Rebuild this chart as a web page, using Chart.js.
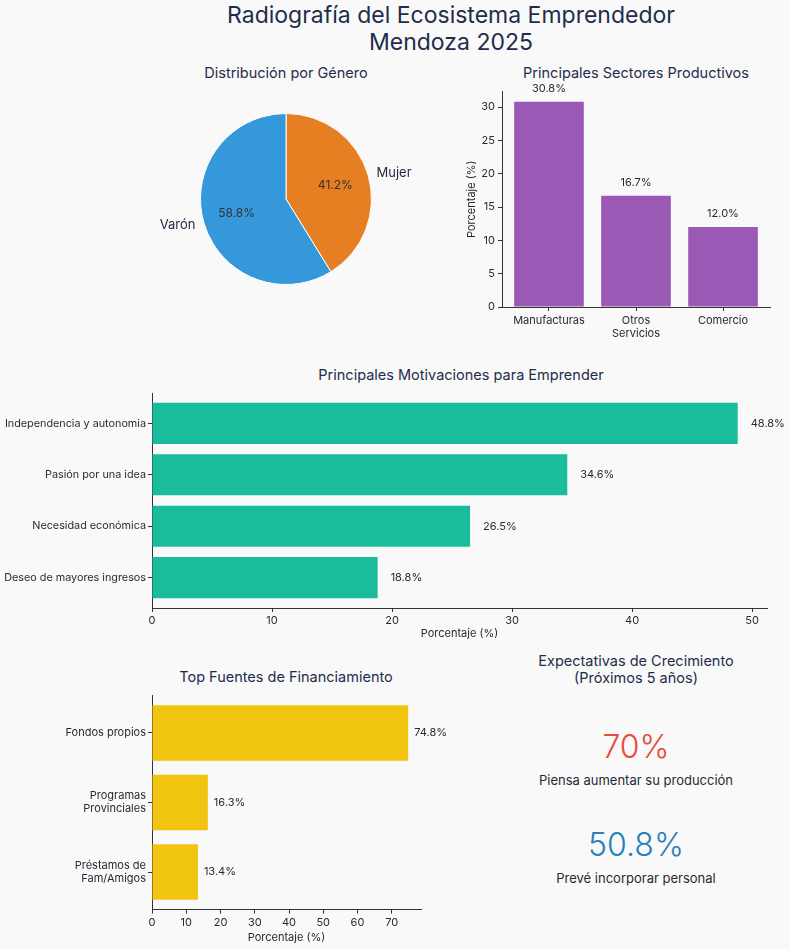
<!DOCTYPE html>
<html><head><meta charset="utf-8">
<script src="https://cdn.jsdelivr.net/npm/chart.js@4.4.0/dist/chart.umd.min.js"></script>
<style>
html,body{margin:0;padding:0;background:#f9f9f9;}
body{width:790px;height:949px;position:relative;overflow:hidden;font-family:Inter, "Noto Sans", sans-serif;}
canvas{position:absolute;}
.t{position:absolute;color:#1e2d4b;text-align:center;white-space:nowrap;transform:translateX(-50%);}
</style></head><body>

<div class="t" style="left:451px;top:2px;font-size:23px;line-height:27px;">Radiografía del Ecosistema Emprendedor<br>Mendoza 2025</div>
<div class="t" style="left:286px;top:64px;font-size:14.5px;">Distribución por Género</div>
<div class="t" style="left:636px;top:64px;font-size:14.5px;">Principales Sectores Productivos</div>
<div class="t" style="left:461px;top:366px;font-size:14.5px;">Principales Motivaciones para Emprender</div>
<div class="t" style="left:286px;top:668px;font-size:14.5px;">Top Fuentes de Financiamiento</div>
<div class="t" style="left:636px;top:652px;font-size:14.5px;line-height:17px;">Expectativas de Crecimiento<br>(Próximos 5 años)</div>
<div id="kpis"></div>

<canvas id="pie" width="320" height="200" style="left:126px;top:99px;"></canvas>
<canvas id="sect" width="350" height="270" style="left:440px;top:80px;"></canvas>
<canvas id="motiv" width="790" height="260" style="left:0px;top:385px;"></canvas>
<canvas id="fin" width="460" height="261" style="left:0px;top:688px;"></canvas>

<script>
// ---- data ----
const genderLabels = ['Mujer', 'Varón'];
const genderValues = [41.2, 58.8];

const sectorLabels = [['Manufacturas'], ['Otros', 'Servicios'], ['Comercio']];
const sectorValues = [30.8, 16.7, 12.0];

const motivLabels = ['Independencia y autonomia', 'Pasión por una idea', 'Necesidad económica', 'Deseo de mayores ingresos'];
const motivValues = [48.8, 34.6, 26.5, 18.8];

const finLabels = [['Fondos propios'], ['Programas', 'Provinciales'], ['Préstamos de', 'Fam/Amigos']];
const finValues = [74.8, 16.3, 13.4];

const growthLabels = ['Piensa aumentar su producción', 'Prevé incorporar personal'];
const growthValues = [70, 50.8];
const growthColors = ['#e74c3c', '#2980b9'];

// ---- common ----
const FONT = 'Inter, "Noto Sans", sans-serif';
const TXT = '#262b33';
Chart.defaults.font.family = FONT;
Chart.defaults.color = TXT;
Chart.defaults.animation = false;
Chart.defaults.plugins.legend.display = false;
Chart.defaults.plugins.tooltip.enabled = false;

// KPIs
const kpiTop = [727, 825];
const kpis = document.getElementById('kpis');
growthValues.forEach((v, i) => {
  const n = document.createElement('div');
  n.className = 't';
  n.style.cssText = `left:636px;top:${kpiTop[i]}px;font-size:32px;font-weight:300;color:${growthColors[i]};`;
  n.textContent = (Number.isInteger(v) ? v : v.toFixed(1)) + '%';
  kpis.appendChild(n);
  const l = document.createElement('div');
  l.className = 't';
  l.style.cssText = `left:636px;top:${kpiTop[i] + 45}px;font-size:13px;color:#262b33;`;
  l.textContent = growthLabels[i];
  kpis.appendChild(l);
});

const barLabels = {
  id: 'barLabels',
  afterDatasetsDraw(chart, args, o) {
    const ctx = chart.ctx, meta = chart.getDatasetMeta(0);
    const vals = chart.data.datasets[0].data;
    ctx.save();
    ctx.font = `${o.size || 11}px ${FONT}`;
    ctx.fillStyle = TXT;
    meta.data.forEach((el, i) => {
      const raw = vals[i];
      const v = o.horizontal ? raw.x : raw.y;
      const s = v.toFixed(1) + '%';
      if (o.horizontal) {
        ctx.textAlign = 'left'; ctx.textBaseline = 'middle';
        ctx.fillText(s, el.x + o.dx, el.y);
      } else {
        ctx.textAlign = 'center'; ctx.textBaseline = 'middle';
        ctx.fillText(s, el.x, el.y - o.dy);
      }
    });
    ctx.restore();
  }
};

const pieLabels = {
  id: 'pieLabels',
  afterDatasetsDraw(chart) {
    const ctx = chart.ctx, meta = chart.getDatasetMeta(0);
    const vals = chart.data.datasets[0].data;
    ctx.save();
    meta.data.forEach((arc, i) => {
      const mid = (arc.startAngle + arc.endAngle) / 2;
      const r = arc.outerRadius;
      const cx = arc.x, cy = arc.y;
      const ox = cx + Math.cos(mid) * r * 1.1, oy = cy + Math.sin(mid) * r * 1.1;
      ctx.font = `13px ${FONT}`;
      ctx.fillStyle = '#262b40';
      ctx.textBaseline = 'middle';
      ctx.textAlign = Math.cos(mid) >= 0 ? 'left' : 'right';
      ctx.fillText(chart.data.labels[i], ox, oy);
      const ix = cx + Math.cos(mid) * r * 0.6, iy = cy + Math.sin(mid) * r * 0.6;
      ctx.font = `12px ${FONT}`;
      ctx.fillStyle = '#333';
      ctx.textAlign = 'center';
      ctx.fillText(vals[i].toFixed(1) + '%', ix, iy);
    });
    ctx.restore();
  }
};

const axisCommon = (extra) => Object.assign({
  offset: false,
  grid: { offset: false, drawOnChartArea: false, drawTicks: true, tickLength: 4, color: '#333', tickWidth: 1 },
  border: { display: true, color: '#333', width: 1 },
  ticks: { font: { size: 11 }, color: TXT, padding: 2 }
}, extra);

const fixWidth = w => s => { s.width = w; s.paddingTop = 0; s.paddingBottom = 0; };
const fixHeight = h => s => { s.height = h; s.paddingLeft = 0; s.paddingRight = 0; };

// ---- pie ----
new Chart(document.getElementById('pie'), {
  type: 'pie',
  data: {
    labels: genderLabels,
    datasets: [{ data: genderValues, backgroundColor: ['#e67e22', '#3498db'], borderColor: '#ffffff', borderWidth: 1 }]
  },
  options: { responsive: false, layout: { padding: { top: 14, bottom: 14 } } },
  plugins: [pieLabels]
});

// ---- sectores ----
new Chart(document.getElementById('sect'), {
  type: 'bar',
  data: {
    datasets: [{
      data: sectorValues.map((v, i) => ({ x: i, y: v })),
      backgroundColor: '#9b59b6', barPercentage: 0.8, categoryPercentage: 1
    }]
  },
  options: {
    responsive: false,
    layout: { padding: { top: 11.4, right: 20, left: 0, bottom: 0 } },
    scales: {
      x: axisCommon({
        type: 'linear', min: -0.54, max: 2.54,
        afterBuildTicks: s => { s.ticks = sectorValues.map((v, i) => ({ value: i })); },
        afterFit: fixHeight(43),
        ticks: { font: { size: 11 }, color: TXT, padding: 3, autoSkip: false, maxRotation: 0,
          callback: v => sectorLabels[v] }
      }),
      y: axisCommon({
        min: 0, max: Math.max(...sectorValues) * 1.05,
        afterFit: fixWidth(62),
        ticks: { font: { size: 11 }, color: TXT, padding: 3, stepSize: 5, includeBounds: false },
        title: { display: true, text: 'Porcentaje (%)', font: { size: 11 }, color: TXT, padding: { top: 25, bottom: 0 } }
      })
    },
    plugins: { barLabels: { dy: 13 } }
  },
  plugins: [barLabels]
});

// ---- motivaciones ----
new Chart(document.getElementById('motiv'), {
  type: 'bar',
  data: {
    datasets: [{
      data: motivValues.map((v, i) => ({ x: v, y: i })),
      backgroundColor: '#1abc9c', barPercentage: 0.8, categoryPercentage: 1
    }]
  },
  options: {
    responsive: false,
    indexAxis: 'y',
    layout: { padding: { top: 8, right: 23, left: 0, bottom: 0 } },
    scales: {
      x: axisCommon({
        min: 0, max: Math.max(...motivValues) * 1.05,
        afterFit: fixHeight(37),
        ticks: { font: { size: 11 }, color: TXT, padding: 2, stepSize: 10, includeBounds: false, maxRotation: 0 },
        title: { display: true, text: 'Porcentaje (%)', font: { size: 11 }, color: TXT, padding: { top: 0, bottom: 5 } }
      }),
      y: axisCommon({
        type: 'linear', min: -0.59, max: 3.59, reverse: true,
        afterBuildTicks: s => { s.ticks = motivValues.map((v, i) => ({ value: i })); },
        afterFit: fixWidth(152),
        ticks: { font: { size: 10.8 }, color: TXT, padding: 2, autoSkip: false, callback: v => motivLabels[v] }
      })
    },
    plugins: { barLabels: { horizontal: true, dx: 13 } }
  },
  plugins: [barLabels]
});

// ---- financiamiento ----
new Chart(document.getElementById('fin'), {
  type: 'bar',
  data: {
    datasets: [{
      data: finValues.map((v, i) => ({ x: v, y: i })),
      backgroundColor: '#f1c40f', barPercentage: 0.8, categoryPercentage: 1
    }]
  },
  options: {
    responsive: false,
    indexAxis: 'y',
    layout: { padding: { top: 7.4, right: 39, left: 0, bottom: 0 } },
    scales: {
      x: axisCommon({
        min: 0, max: Math.max(...finValues) * 1.05,
        afterFit: fixHeight(39.4),
        ticks: { font: { size: 11 }, color: TXT, padding: 2, stepSize: 10, includeBounds: false, maxRotation: 0 },
        title: { display: true, text: 'Porcentaje (%)', font: { size: 11 }, color: TXT, padding: { top: 0, bottom: 5 } }
      }),
      y: axisCommon({
        type: 'linear', min: -0.54, max: 2.54, reverse: true,
        afterBuildTicks: s => { s.ticks = finValues.map((v, i) => ({ value: i })); },
        afterFit: fixWidth(152),
        ticks: { font: { size: 11 }, color: TXT, padding: 2, autoSkip: false, callback: v => finLabels[v] }
      })
    },
    plugins: { barLabels: { horizontal: true, dx: 6 } }
  },
  plugins: [barLabels]
});
</script>
</body></html>
